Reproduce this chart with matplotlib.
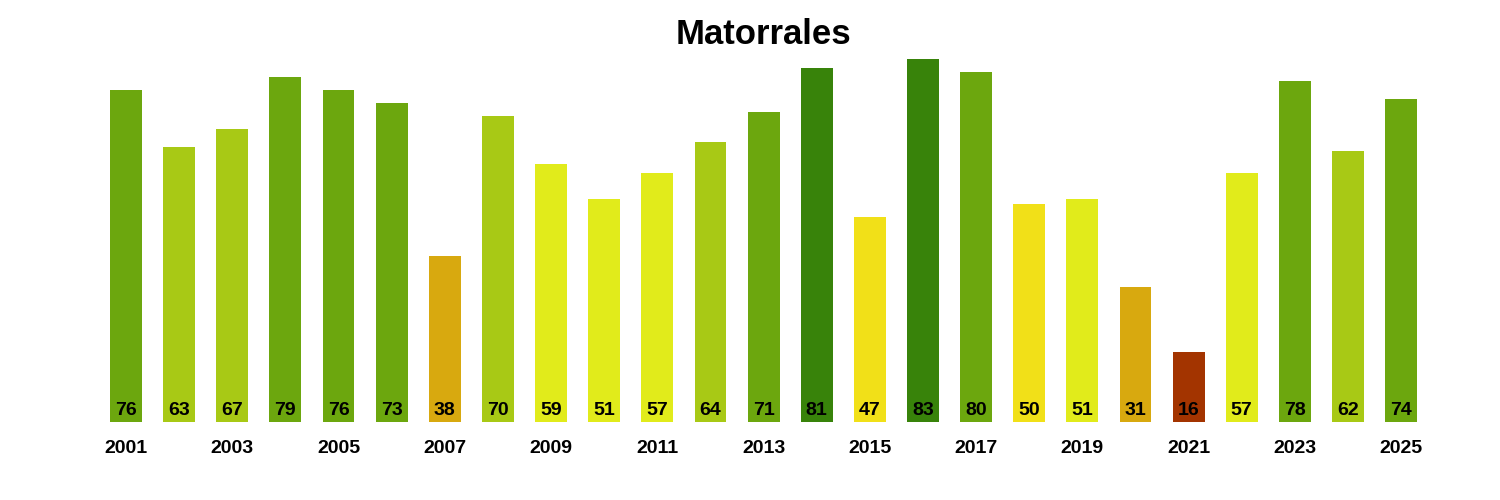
import matplotlib
matplotlib.use('Agg')
import matplotlib.pyplot as plt

# datos de la serie
years = list(range(2001, 2026))
values = [76, 63, 67, 79, 76, 73, 38, 70, 59, 51, 57, 64, 71, 81, 47, 83, 80, 50, 51, 31, 16, 57, 78, 62, 74]
colors = ['#6CA70E', '#A8C915', '#A8C915', '#6CA70E', '#6CA70E', '#6CA70E', '#D8A90F', '#A8C915',
          '#E1EB1B', '#E1EB1B', '#E1EB1B', '#A8C915', '#6CA70E', '#38830A', '#F1E018', '#38830A',
          '#6CA70E', '#F1E018', '#E1EB1B', '#D8A90F', '#A33400', '#E1EB1B', '#6CA70E', '#A8C915',
          '#6CA70E']
tick_years = years[::2]

plt.rcParams['font.family'] = ['Liberation Sans', 'DejaVu Sans']

fig = plt.figure(figsize=(15, 5), dpi=100)
ax = fig.add_axes([0.0663, 0.156, 0.8855, 0.734])
ax.bar(years, values, width=0.6, color=colors)

for x, v in zip(years, values):
    ax.text(x, 0.6, str(v), ha='center', va='bottom', fontsize=14, fontweight='bold', color='black')

ax.set_xlim(2000.5, 2025.5)
ax.set_ylim(0, 84)
ax.set_xticks(tick_years)
ax.set_xticklabels([str(y) for y in tick_years], fontsize=14, fontweight='bold')
ax.tick_params(axis='x', length=0, pad=13)
ax.set_yticks([])
for s in ax.spines.values():
    s.set_visible(False)

fig.text(0.509, 0.93, 'Matorrales', ha='center', va='center', fontsize=25, fontweight='bold')

fig.savefig('out.png', dpi=100)
